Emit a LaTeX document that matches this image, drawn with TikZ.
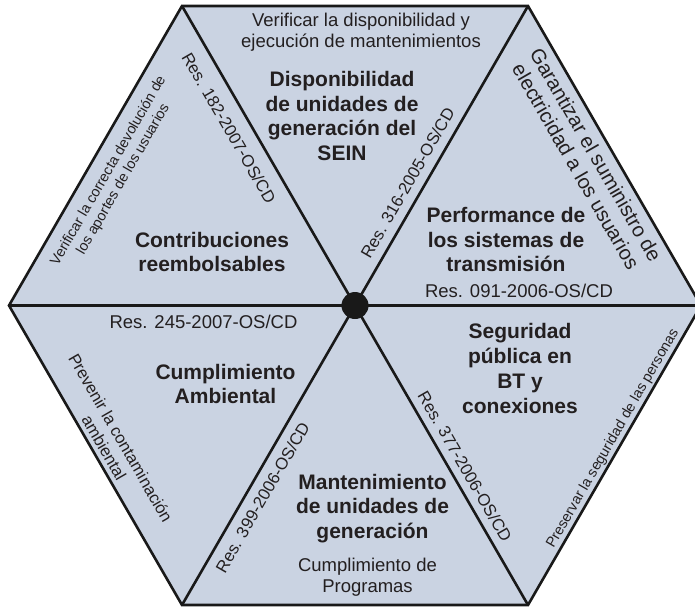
\documentclass[tikz,border=0pt]{standalone}
\usepackage{fontspec}
\setmainfont{Liberation Sans}
\definecolor{hexfill}{RGB}{202,211,226}
\definecolor{txt}{RGB}{35,31,32}
\begin{document}
\begin{tikzpicture}[x=1pt,y=-1pt,
  edge/.style={line width=2.6pt, line join=miter, color=black!90},
  lbl/.style={text=txt, align=center, inner sep=0pt},
  small/.style={lbl, font=\fontsize{18.5}{21}\selectfont},
  big/.style={lbl, font=\fontsize{21}{24.7}\selectfont\bfseries},
  resrot/.style={lbl, font=\fontsize{16.8}{19}\selectfont},
  sidesmall/.style={lbl, font=\fontsize{14.4}{17}\selectfont},
  sidemid/.style={lbl, font=\fontsize{16.6}{19}\selectfont},
  sidebig/.style={lbl, font=\fontsize{20.3}{23}\selectfont}]
\useasboundingbox (0,0) rectangle (695,607);
\clip (0,0) rectangle (695,607);
\coordinate (C) at (355,305.5);
\coordinate (L) at (9,305.5);
\coordinate (TL) at (182,6);
\coordinate (TR) at (528,6);
\coordinate (R) at (701,305.5);
\coordinate (BR) at (528,605);
\coordinate (BL) at (182,605);
\fill[hexfill] (L) -- (TL) -- (TR) -- (R) -- (BR) -- (BL) -- cycle;
\draw[edge] (L) -- (R);
\draw[edge] (TL) -- (BR);
\draw[edge] (TR) -- (BL);
\draw[edge] (L) -- (TL) -- (TR) -- (R) -- (BR) -- (BL) -- cycle;
\fill[black!90] (C) circle (13.5);

% top
\node[small] (topgoal) at (361,32.5) {Verificar la disponibilidad y\\ejecución de mantenimientos};
\node[big] (toptitle) at (342,116) {Disponibilidad\\de unidades de\\generación del\\SEIN};
% upper left
\node[big] (ultitle) at (212,252) {Contribuciones\\reembolsables};
\node[sidesmall, rotate=60] (ulgoal) at (116,175) {Verificar la correcta devolución de\\los aportes de los usuarios};
\node[resrot, rotate=-60] (ulres) at (229,128) {Res. 182-2007-OS/CD};
% upper right
\node[resrot, rotate=60] (urres) at (407.5,183) {Res. 316-2005-OS/CD};
\node[sidebig, rotate=-60] (urgoal) at (586,160.5) {Garantizar el suministro de\\electricidad a los usuarios};
\node[big] (urtitle) at (506,239.5) {Performance de\\los sistemas de\\transmisión};
\node[small] (urres2) at (519,291) {Res. 091-2006-OS/CD};
% lower left
\node[small] (llres) at (203.5,322) {Res. 245-2007-OS/CD};
\node[big] (lltitle) at (225.5,384) {Cumplimiento\\Ambiental};
\node[sidemid, rotate=-60] (llgoal) at (112.5,442.5) {Prevenir la contaminación\\ambiental};
% bottom
\node[resrot, rotate=60] (bres) at (262.5,497.5) {Res. 399-2006-OS/CD};
\node[big] (btitle) at (372.5,508.5) {Mantenimiento\\de unidades de\\generación};
\node[small] (bgoal) at (367.5,577.5) {Cumplimiento de\\Programas};
% lower right
\node[big] (lrtitle) at (520,368.5) {Seguridad\\pública en\\BT y\\conexiones};
\node[resrot, rotate=-60] (lrres) at (465,466.5) {Res. 377-2006-OS/CD};
\node[sidesmall, rotate=60] (lrgoal) at (613,438.5) {Preservar la seguridad de las personas};
\end{tikzpicture}
\end{document}
